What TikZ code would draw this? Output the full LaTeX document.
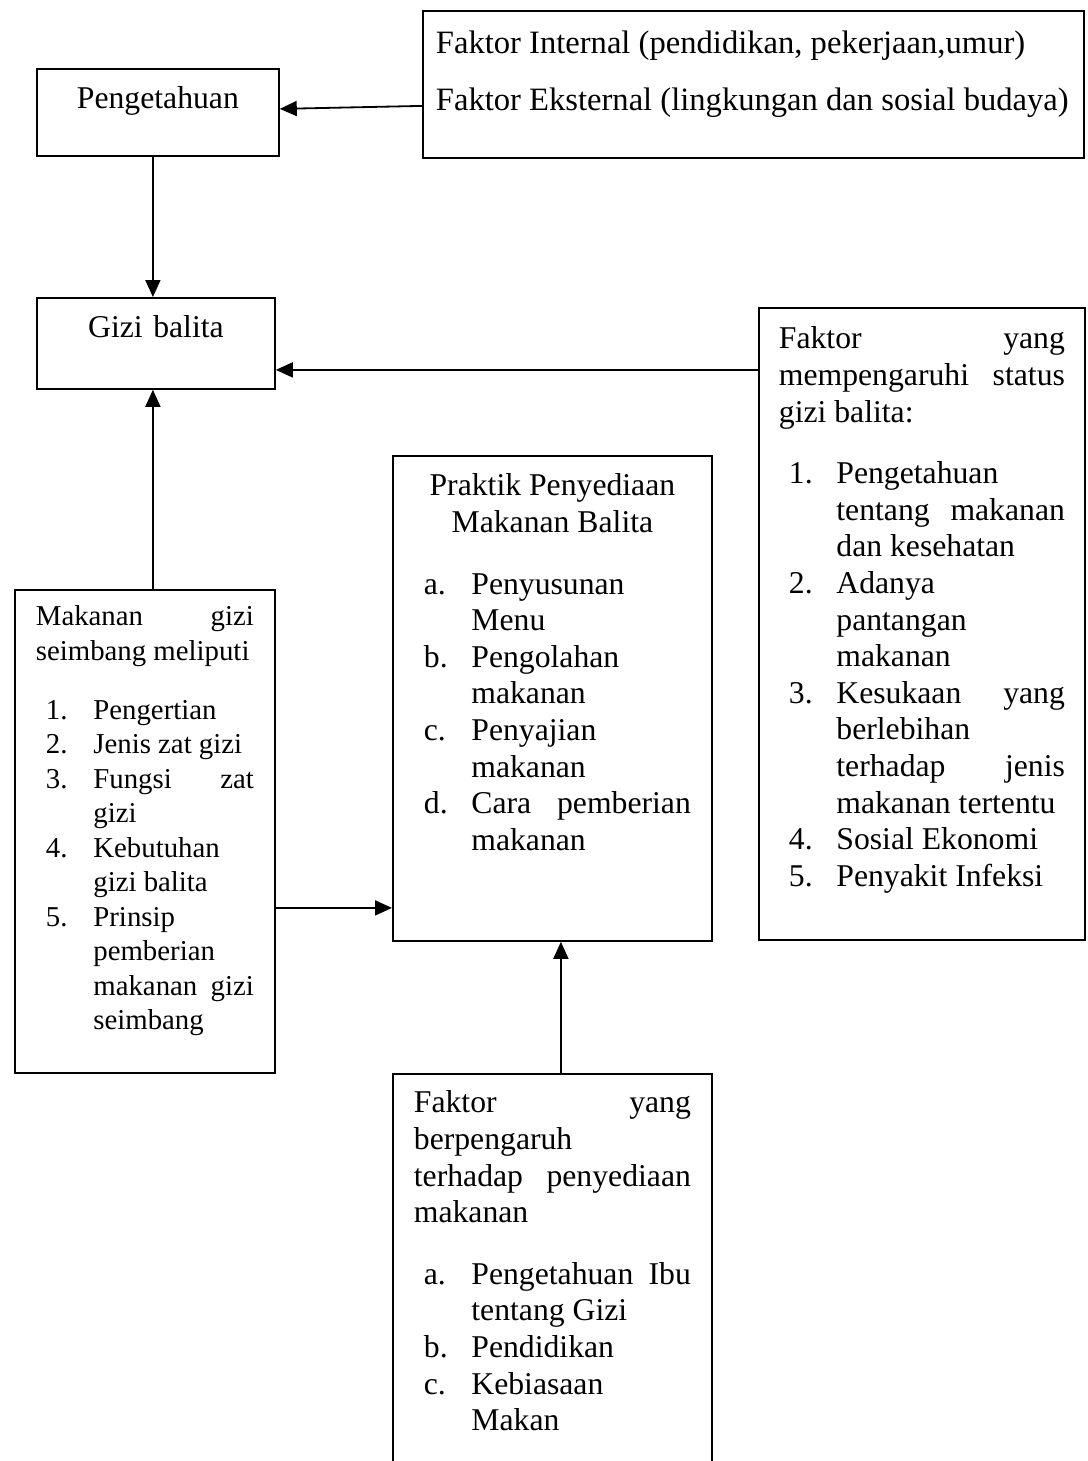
\documentclass[tikz,border=0pt]{standalone}
\usepackage{fontspec}
\setmainfont{Liberation Serif}
\usetikzlibrary{arrows.meta,calc}

\newcommand{\besar}{\fontsize{15.85pt}{18.3pt}\selectfont}
\newcommand{\kecil}{\fontsize{14.4pt}{17.25pt}\selectfont}
% numbered line with hanging indent
\newcommand{\butir}[2]{\par\hangindent=28.75pt\hangafter=1\noindent\makebox[28.75pt][l]{\hspace{5pt}#1}#2\par}

\begin{document}
\begin{tikzpicture}[
    x=0.5pt, y=-0.5pt,
    box/.style={rectangle, draw, line width=0.9pt, anchor=north west, align=flush left, text height=0pt, font=\besar},
    arrow/.style={-{Triangle[length=8.5pt,width=7.5pt]}, line width=0.9pt},
]
\clip (0,0) rectangle (1087,1461);

% Top row
\node[box, align=center, text width=111pt, inner xsep=5pt, inner ysep=20pt, text depth=3.5pt] (peng) at (36,68) {Pengetahuan};
\node[box, text width=317.5pt, inner xsep=6.5pt, inner ysep=21.5pt, text depth=30.5pt, font=\fontsize{16.3pt}{28.5pt}\selectfont] (ext) at (422,10)
  {Faktor Internal (pendidikan, pekerjaan,umur)\newline Faktor Eksternal (lingkungan dan sosial budaya)};

% Middle
\node[box, align=center, text width=109pt, inner xsep=5pt, inner ysep=20pt, text depth=5.5pt] (gizi) at (36,297) {Gizi balita};
\node[box, text width=143pt, inner xsep=10pt, inner ysep=20.5pt, text depth=275pt] (fak) at (758,307)
  {Faktor\hfill yang\newline mempengaruhi\hfill status\newline gizi balita:\par\vspace{12.5pt}
   \butir{1.}{Pengetahuan\newline tentang\hfill makanan\newline dan kesehatan}
   \butir{2.}{Adanya\newline pantangan\newline makanan}
   \butir{3.}{Kesukaan\hfill yang\newline berlebihan\newline terhadap\hfill jenis\newline makanan tertentu}
   \butir{4.}{Sosial Ekonomi}
   \butir{5.}{Penyakit Infeksi}};
\node[box, text width=138.5pt, inner xsep=10.5pt, inner ysep=20pt, text depth=202.5pt] (prak) at (392,455)
  {\makebox[\linewidth][c]{Praktik Penyediaan}\newline\makebox[\linewidth][c]{Makanan Balita}\par\vspace{12.5pt}
   \butir{a.}{Penyusunan\newline Menu}
   \butir{b.}{Pengolahan\newline makanan}
   \butir{c.}{Penyajian\newline makanan}
   \butir{d.}{Cara\hfill pemberian\newline makanan}};
\node[box, font=\kecil, text width=109pt, inner xsep=10.5pt, inner ysep=18pt, text depth=205.5pt] (mak) at (14,589)
  {Makanan\hfill gizi\newline seimbang meliputi\par\vspace{12.25pt}
   \butir{1.}{Pengertian}
   \butir{2.}{Jenis zat gizi}
   \butir{3.}{Fungsi\hfill zat\newline gizi}
   \butir{4.}{Kebutuhan\newline gizi balita}
   \butir{5.}{Prinsip\newline pemberian\newline makanan\hfill gizi\newline seimbang}};

% Bottom (runs off the page)
\node[box, text width=138.5pt, inner xsep=10.5pt, inner ysep=19.5pt, text depth=210pt] (bawah) at (392,1073)
  {Faktor\hfill yang\newline berpengaruh\newline terhadap\hfill penyediaan\newline makanan\par\vspace{12.5pt}
   \butir{a.}{Pengetahuan\hfill Ibu\newline tentang Gizi}
   \butir{b.}{Pendidikan}
   \butir{c.}{Kebiasaan\newline Makan}};

% Arrows
\coordinate (kiri) at ($(gizi.east)+(0,26.5)$);
\coordinate (tengah) at ($(mak.east)+(0,76.5)$);
\draw[arrow] ($(ext.west)+(0,21.5)$) -- ($(peng.east)+(0,-3.5)$);
\draw[arrow] ($(peng.south)+(-5,0)$) -- ($(gizi.north)+(-3,0)$);
\draw[arrow] (kiri -| fak.west) -- (kiri);
\draw[arrow] ($(mak.north)+(8,0)$) -- ($(gizi.south)+(-3,0)$);
\draw[arrow] (tengah) -- (tengah -| prak.west);
\draw[arrow] ($(bawah.north)+(8.5,0)$) -- ($(prak.south)+(8.5,0)$);

\end{tikzpicture}
\end{document}
